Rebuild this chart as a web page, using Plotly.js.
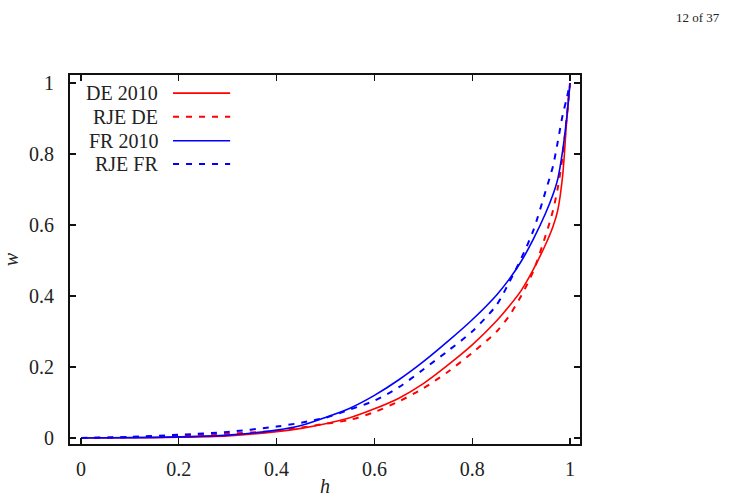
<!DOCTYPE html>
<html><head><meta charset="utf-8">
<script src="https://cdn.plot.ly/plotly-3.0.1.min.js"></script>
<style>html,body{margin:0;padding:0;background:#fff;}#c{width:742px;height:500px;}</style>
</head><body><div id="c"></div>
<script>
const h      = [0,0.1,0.2,0.3,0.4,0.45,0.5,0.55,0.6,0.65,0.7,0.75,0.8,0.85,0.875,0.9,0.925,0.95,0.965,0.975,0.985,0.993,1];
const de2010 = [0,0.0005,0.002,0.006,0.018,0.027,0.04,0.057,0.082,0.112,0.153,0.205,0.262,0.33,0.37,0.415,0.475,0.545,0.595,0.642,0.74,0.89,1];
const rjeDE  = [0,0.002,0.007,0.012,0.02,0.029,0.04,0.051,0.073,0.103,0.14,0.186,0.24,0.30,0.343,0.40,0.47,0.57,0.64,0.705,0.795,0.9,1];
const fr2010 = [0,0.001,0.003,0.008,0.022,0.035,0.058,0.084,0.12,0.164,0.215,0.272,0.333,0.403,0.446,0.497,0.56,0.633,0.685,0.73,0.81,0.9,1];
const rjeFR  = [0,0.003,0.009,0.017,0.032,0.043,0.057,0.08,0.105,0.143,0.193,0.245,0.30,0.375,0.437,0.505,0.585,0.695,0.765,0.835,0.91,0.955,1];
const names = ["DE 2010","RJE DE","FR 2010","RJE FR"];
const colors = ["#ff0000","#ff0000","#0000ff","#0000ff"];
const dashes = ["solid","6px,7px","solid","6px,7px"];
const widths = [1.6,2,1.6,2];
const series = [de2010,rjeDE,fr2010,rjeFR];
const xTicks = [0,0.2,0.4,0.6,0.8,1];
const yTicks = [0,0.2,0.4,0.6,0.8,1];

const font = "'Liberation Serif', 'DejaVu Serif', serif";
const traces = series.map((s,i)=>({x:h,y:s,type:"scatter",mode:"lines",name:names[i],
  line:{color:colors[i],dash:dashes[i],width:widths[i],shape:"spline",smoothing:0.8},showlegend:false}));

const legRows = [0.951,0.887,0.822,0.759];
const annotations = names.map((n,i)=>({xref:"paper",yref:"paper",x:0.1765,y:legRows[i],xanchor:"right",yanchor:"middle",
  text:n,showarrow:false,font:{family:font,size:20,color:"#222"}}));
annotations.push({xref:"paper",yref:"paper",x:(742-70-20)/510,y:(444-18)/369,xanchor:"right",yanchor:"middle",
  text:"12 of 37",showarrow:false,font:{family:font,size:13,color:"#222"}});
const shapes = names.map((n,i)=>({type:"line",xref:"paper",yref:"paper",x0:0.202,x1:0.314,y0:legRows[i],y1:legRows[i],
  line:{color:colors[i],dash:dashes[i],width:widths[i]}}));

const axisCommon = {showgrid:false,zeroline:false,showline:true,linecolor:"#111",linewidth:2,mirror:"ticks",
  ticks:"inside",ticklen:6,tickwidth:1.2,tickcolor:"#111",tickfont:{family:font,size:20,color:"#222"}};
const layout = {
  width:742,height:500,paper_bgcolor:"#fff",plot_bgcolor:"#fff",
  margin:{l:70,r:162,t:75,b:56},
  xaxis:Object.assign({},axisCommon,{range:[-0.0225,1.0204],tickvals:xTicks,ticktext:xTicks.map(String),ticklabelstandoff:6,
    title:{text:"<i>h</i>",font:{family:font,size:20,color:"#222"},standoff:0}}),
  yaxis:Object.assign({},axisCommon,{range:[-0.017,1.0225],tickvals:yTicks,ticktext:yTicks.map(String),ticklabelstandoff:10,
    title:{text:"<i>w</i>",font:{family:font,size:20,color:"#222"},standoff:14}}),
  annotations:annotations,shapes:shapes
};
Plotly.newPlot("c",traces,layout,{displayModeBar:false,staticPlot:true});
</script></body></html>
